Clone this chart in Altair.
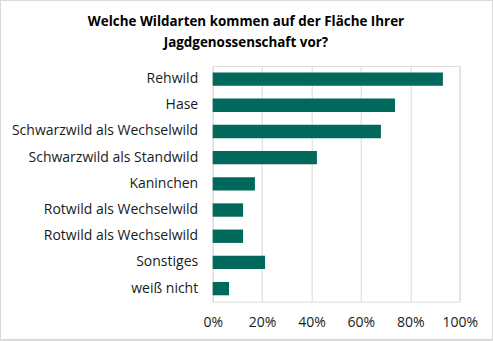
import altair as alt
import pandas as pd

categories = [
    "Rehwild",
    "Hase",
    "Schwarzwild als Wechselwild",
    "Schwarzwild als Standwild",
    "Kaninchen",
    "Rotwild als Wechselwild",
    "Rotwild als Wechselwild",
    "Sonstiges",
    "weiß nicht",
]
values = [0.932, 0.738, 0.681, 0.422, 0.171, 0.123, 0.123, 0.212, 0.066]
x_ticks = [0, 0.2, 0.4, 0.6, 0.8, 1.0]

df = pd.DataFrame({"idx": list(range(len(categories))), "cat": categories, "val": values})

label_expr = "[" + ",".join("'" + c + "'" for c in categories) + "][datum.value]"

FONT = "Open Sans"

bars = alt.Chart(df).mark_bar(color="#00695C").encode(
    y=alt.Y(
        "idx:O",
        sort="ascending",
        title=None,
        scale=alt.Scale(paddingInner=0.49, paddingOuter=0.245),
        axis=alt.Axis(
            labelExpr=label_expr,
            ticks=False,
            domain=False,
            labelPadding=15,
            labelFontSize=14,
            labelLimit=400,
            labelFont=FONT,
            labelColor="#1a1a1a",
            grid=False,
        ),
    ),
    x=alt.X(
        "val:Q",
        title=None,
        scale=alt.Scale(domain=[0, 1], nice=False),
        axis=alt.Axis(
            values=x_ticks,
            format=".0%",
            ticks=False,
            domain=False,
            grid=True,
            gridColor="#d9d9d9",
            gridWidth=1,
            labelFlush=False,
            labelPadding=14,
            labelFontSize=14,
            labelFont=FONT,
            labelColor="#1a1a1a",
        ),
    ),
)

border = alt.Chart(df).mark_rect(fill=None, stroke="#d9d9d9", strokeWidth=1).encode(
    x=alt.value(-212.2), x2=alt.value(279.8), y=alt.value(-65.5), y2=alt.value(273.8)
)

chart = alt.layer(border, bars).properties(
    width=247,
    height=235.7,
    autosize=alt.AutoSizeParams(type="none"),
    padding={"left": 212.7, "top": 66, "right": 33.3, "bottom": 39.3},
    title=alt.TitleParams(
        text=["Welche Wildarten kommen auf der Fläche Ihrer", "Jagdgenossenschaft vor?"],
        anchor="start",
        align="center",
        dx=246,
        offset=-49,
        font=FONT,
        fontSize=13.4,
        fontWeight="bold",
        color="#000000",
        lineHeight=21,
    ),
).configure_view(stroke=None).configure(background="white")

chart.save("out.html", embed_options={"renderer": "svg", "actions": False})
